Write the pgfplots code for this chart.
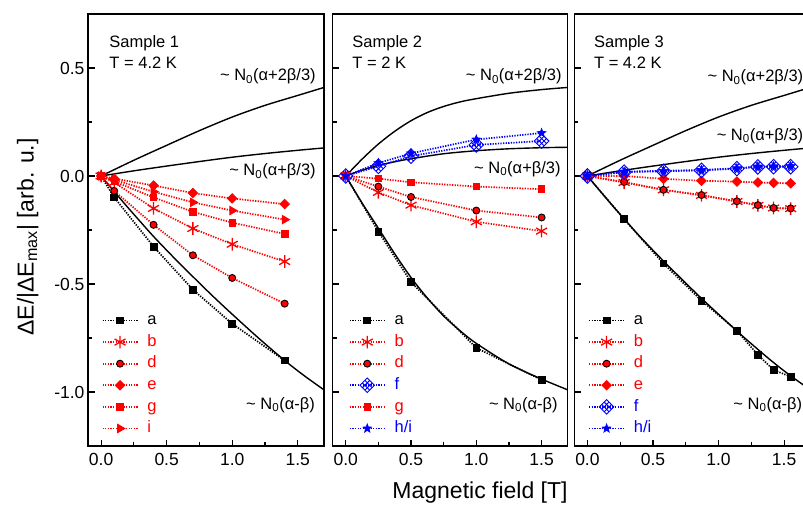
\documentclass[border=0pt]{standalone}
\usepackage{pgfplots}
\pgfplotsset{compat=1.18}
\usepackage{fontspec}
\setmainfont{Liberation Sans}
\usetikzlibrary{plotmarks}

\definecolor{myred}{RGB}{255,0,0}
\definecolor{myblue}{RGB}{0,0,255}

\pgfdeclareplotmark{latdiamond}{%
  \pgfpathmoveto{\pgfqpoint{0pt}{\pgfplotmarksize}}%
  \pgfpathlineto{\pgfqpoint{\pgfplotmarksize}{0pt}}%
  \pgfpathlineto{\pgfqpoint{0pt}{-\pgfplotmarksize}}%
  \pgfpathlineto{\pgfqpoint{-\pgfplotmarksize}{0pt}}%
  \pgfpathclose
  \pgfpathmoveto{\pgfqpoint{-0.3333\pgfplotmarksize}{0.6667\pgfplotmarksize}}%
  \pgfpathlineto{\pgfqpoint{0.6667\pgfplotmarksize}{-0.3333\pgfplotmarksize}}%
  \pgfpathmoveto{\pgfqpoint{-0.6667\pgfplotmarksize}{0.3333\pgfplotmarksize}}%
  \pgfpathlineto{\pgfqpoint{0.3333\pgfplotmarksize}{-0.6667\pgfplotmarksize}}%
  \pgfpathmoveto{\pgfqpoint{0.3333\pgfplotmarksize}{0.6667\pgfplotmarksize}}%
  \pgfpathlineto{\pgfqpoint{-0.6667\pgfplotmarksize}{-0.3333\pgfplotmarksize}}%
  \pgfpathmoveto{\pgfqpoint{0.6667\pgfplotmarksize}{0.3333\pgfplotmarksize}}%
  \pgfpathlineto{\pgfqpoint{-0.3333\pgfplotmarksize}{-0.6667\pgfplotmarksize}}%
  \pgfusepathqstroke
}
\pgfdeclareplotmark{fstar}{%
  \pgfpathmoveto{\pgfqpointpolar{90}{\pgfplotmarksize}}%
  \pgfpathlineto{\pgfqpointpolar{126}{0.42\pgfplotmarksize}}%
  \pgfpathlineto{\pgfqpointpolar{162}{\pgfplotmarksize}}%
  \pgfpathlineto{\pgfqpointpolar{198}{0.42\pgfplotmarksize}}%
  \pgfpathlineto{\pgfqpointpolar{234}{\pgfplotmarksize}}%
  \pgfpathlineto{\pgfqpointpolar{270}{0.42\pgfplotmarksize}}%
  \pgfpathlineto{\pgfqpointpolar{306}{\pgfplotmarksize}}%
  \pgfpathlineto{\pgfqpointpolar{342}{0.42\pgfplotmarksize}}%
  \pgfpathlineto{\pgfqpointpolar{18}{\pgfplotmarksize}}%
  \pgfpathlineto{\pgfqpointpolar{54}{0.42\pgfplotmarksize}}%
  \pgfpathclose
  \pgfusepathqfillstroke
}
\pgfdeclareplotmark{rdiamondf}{%
  \pgfpathmoveto{\pgfqpoint{0pt}{\pgfplotmarksize}}%
  \pgfpathlineto{\pgfqpoint{\pgfplotmarksize}{0pt}}%
  \pgfpathlineto{\pgfqpoint{0pt}{-\pgfplotmarksize}}%
  \pgfpathlineto{\pgfqpoint{-\pgfplotmarksize}{0pt}}%
  \pgfpathclose
  \pgfusepathqfillstroke
}

\newcommand{\myfs}{\fontsize{16.5}{19}\selectfont}
\newcommand{\myfl}{\fontsize{23}{26}\selectfont}

\pgfplotsset{
  dotline/.style={line width=1.7pt, dash pattern=on 1.3pt off 1.3pt},
  theory/.style={black, line width=1.4pt, solid, no markers, forget plot, smooth},
  sa/.style={black, dotline, mark=square*, mark size=3.4pt, mark options={solid, fill=black, line width=0.8pt}},
  sb/.style={myred, dotline, mark=asterisk, mark size=6.3pt, mark options={solid, line width=1.3pt}},
  sd/.style={myred, dotline, mark=*, mark size=3.5pt, mark options={solid, fill=myred, draw=black, line width=0.9pt}},
  se/.style={myred, dotline, mark=rdiamondf, mark size=4.7pt, mark options={solid, fill=myred, line width=0.8pt}},
  sg/.style={myred, dotline, mark=square*, mark size=3.3pt, mark options={solid, fill=myred, line width=0.8pt}},
  si/.style={myred, dotline, mark=triangle*, mark size=4.9pt, mark options={solid, fill=myred, rotate=-90, line width=0.8pt}},
  sf/.style={myblue, dotline, mark=latdiamond, mark size=7.3pt, mark options={solid, line width=0.9pt}},
  sh/.style={myblue, dotline, mark=fstar, mark size=4.6pt, mark options={solid, fill=myblue, line width=0.6pt}},
  panel/.style={
    scale only axis, width=236pt, height=432pt, anchor=south west,
    xmin=-0.1, xmax=1.7, ymin=-1.25, ymax=0.75,
    xtick={0,0.5,1,1.5}, minor xtick={0.25,0.75,1.25},
    ytick={-1,-0.5,0,0.5}, minor ytick={-1.25,-0.75,-0.25,0.25},
    tick align=inside, xtick pos=left, ytick pos=left,
    major tick length=6.5pt, minor tick length=4pt,
    axis line style={line width=1.3pt},
    every tick/.style={black, line width=1.1pt},
    xticklabel={\pgfmathprintnumber[fixed,fixed zerofill,precision=1,assume math mode=true]{\tick}},
    yticklabel={\pgfmathprintnumber[fixed,fixed zerofill,precision=1,assume math mode=true]{\tick}},
    tick label style={font=\fontsize{17.5}{20}\selectfont},
    xticklabel style={yshift=-4pt},
    legend cell align=left,
    legend image code/.code={\draw[mark repeat=2,mark phase=2,##1] plot coordinates {(0pt,0pt) (17.5pt,0pt) (35pt,0pt)};},
    legend style={draw=none, fill=none, inner sep=0pt, outer sep=0pt, anchor=north west,
      row sep=6.1pt, font=\myfs,
      nodes={inner sep=0pt, text height=12pt, text depth=3.5pt},
      /tikz/every odd column/.append style={column sep=9pt}},
  },
}

\begin{document}
\begin{tikzpicture}

% ---------------- Panel 1 ----------------
\begin{axis}[panel, at={(88pt,-446pt)},
  legend style={at={(rel axis cs:0.058,0.3085)}}]
\addplot[theory] coordinates {(0,0) (0.25,0.073) (0.5,0.142) (0.75,0.21) (1.0,0.273) (1.25,0.327) (1.5,0.373) (1.7,0.41)};
\addplot[theory] coordinates {(0,0) (0.25,0.024) (0.5,0.046) (0.75,0.067) (1.0,0.087) (1.25,0.104) (1.5,0.119) (1.7,0.130)};
\addplot[theory] coordinates {(0,0) (0.1,-0.072) (0.2,-0.143) (0.3,-0.212) (0.4,-0.28) (0.55,-0.375) (0.7,-0.466) (0.85,-0.555) (1.0,-0.64) (1.2,-0.75) (1.4,-0.854) (1.55,-0.925) (1.7,-0.99)};
\addplot[sa] coordinates {(0,0) (0.1,-0.099) (0.4,-0.327) (0.7,-0.526) (1.0,-0.684) (1.4,-0.854)};
\addlegendentry{a}
\addplot[sb] coordinates {(0,0) (0.1,-0.030) (0.4,-0.150) (0.7,-0.243) (1.0,-0.316) (1.4,-0.396)};
\addlegendentry{\textcolor{myred}{b}}
\addplot[sd] coordinates {(0,0) (0.1,-0.069) (0.4,-0.226) (0.7,-0.367) (1.0,-0.472) (1.4,-0.591)};
\addlegendentry{\textcolor{myred}{d}}
\addplot[se] coordinates {(0,0) (0.1,-0.012) (0.4,-0.044) (0.7,-0.079) (1.0,-0.104) (1.4,-0.130)};
\addlegendentry{\textcolor{myred}{e}}
\addplot[sg] coordinates {(0,0) (0.1,-0.025) (0.4,-0.099) (0.7,-0.166) (1.0,-0.216) (1.4,-0.268)};
\addlegendentry{\textcolor{myred}{g}}
\addplot[si] coordinates {(0,0) (0.1,-0.018) (0.4,-0.073) (0.7,-0.122) (1.0,-0.160) (1.4,-0.202)};
\addlegendentry{\textcolor{myred}{i}}
\node[anchor=base west, font=\myfs] at (rel axis cs:0.076,0.9225) {Sample 1};
\node[anchor=base west, font=\myfs] at (rel axis cs:0.076,0.874) {T = 4.2 K};
\node[anchor=base east, font=\myfs] at (rel axis cs:0.98,0.845) {\textasciitilde{} N\textsubscript{0}(α+2β/3)};
\node[anchor=base east, font=\myfs] at (rel axis cs:0.98,0.6257) {\textasciitilde{} N\textsubscript{0}(α+β/3)};
\node[anchor=base east, font=\myfs] at (rel axis cs:0.976,0.0850) {\textasciitilde{} N\textsubscript{0}(α-β)};
\end{axis}

% ---------------- Panel 2 ----------------
\begin{axis}[panel, at={(332.7pt,-446pt)}, width=235pt, yticklabels={},
  legend style={at={(rel axis cs:0.069,0.3085)}}]
\addplot[theory] coordinates {(0,0) (0.125,0.078) (0.25,0.148) (0.375,0.207) (0.5,0.256) (0.625,0.294) (0.75,0.322) (0.875,0.343) (1.0,0.358) (1.25,0.383) (1.5,0.400) (1.7,0.41)};
\addplot[theory] coordinates {(0,0) (0.125,0.027) (0.25,0.049) (0.375,0.066) (0.5,0.08) (0.75,0.103) (1.0,0.117) (1.25,0.126) (1.5,0.131) (1.7,0.133)};
\addplot[theory] coordinates {(0,0) (0.125,-0.125) (0.25,-0.242) (0.375,-0.36) (0.5,-0.47) (0.625,-0.565) (0.75,-0.648) (0.875,-0.716) (1.0,-0.775) (1.25,-0.87) (1.5,-0.94) (1.7,-0.99)};
\addplot[sa] coordinates {(0,0) (0.25,-0.257) (0.5,-0.491) (1.0,-0.796) (1.5,-0.944)};
\addlegendentry{a}
\addplot[sb] coordinates {(0,0) (0.25,-0.076) (0.5,-0.135) (1.0,-0.212) (1.5,-0.255)};
\addlegendentry{\textcolor{myred}{b}}
\addplot[sd] coordinates {(0,0) (0.25,-0.049) (0.5,-0.097) (1.0,-0.160) (1.5,-0.192)};
\addlegendentry{\textcolor{myred}{d}}
\addplot[sf] coordinates {(0,0) (0.25,0.045) (0.5,0.092) (1.0,0.144) (1.5,0.162)};
\addlegendentry{\textcolor{myblue}{f}}
\addplot[sg] coordinates {(0,0) (0.25,-0.012) (0.5,-0.029) (1.0,-0.049) (1.5,-0.061)};
\addlegendentry{\textcolor{myred}{g}}
\addplot[sh] coordinates {(0,0) (0.25,0.060) (0.5,0.105) (1.0,0.169) (1.5,0.199)};
\addlegendentry{\textcolor{myblue}{h/i}}
\node[anchor=base west, font=\myfs] at (rel axis cs:0.069,0.9225) {Sample 2};
\node[anchor=base west, font=\myfs] at (rel axis cs:0.069,0.874) {T = 2 K};
\node[anchor=base east, font=\myfs] at (rel axis cs:0.989,0.845) {\textasciitilde{} N\textsubscript{0}(α+2β/3)};
\node[anchor=base east, font=\myfs] at (rel axis cs:0.985,0.6312) {\textasciitilde{} N\textsubscript{0}(α+β/3)};
\node[anchor=base east, font=\myfs] at (rel axis cs:0.972,0.0850) {\textasciitilde{} N\textsubscript{0}(α-β)};
\end{axis}

% ---------------- Panel 3 ----------------
\begin{axis}[panel, at={(574.3pt,-446pt)}, yticklabels={},
  legend style={at={(rel axis cs:0.059,0.3085)}}]
\addplot[theory] coordinates {(0,0) (0.25,0.073) (0.5,0.142) (0.75,0.21) (1.0,0.273) (1.25,0.327) (1.5,0.373) (1.7,0.41)};
\addplot[theory] coordinates {(0,0) (0.25,0.024) (0.5,0.046) (0.75,0.067) (1.0,0.087) (1.25,0.104) (1.5,0.119) (1.7,0.130)};
\addplot[theory] coordinates {(0,0) (0.1,-0.072) (0.2,-0.143) (0.3,-0.212) (0.4,-0.28) (0.55,-0.375) (0.7,-0.466) (0.85,-0.555) (1.0,-0.64) (1.2,-0.75) (1.4,-0.854) (1.55,-0.925) (1.7,-0.99)};
\addplot[sa] coordinates {(0,0) (0.28,-0.200) (0.58,-0.405) (0.87,-0.577) (1.14,-0.716) (1.30,-0.828) (1.42,-0.898) (1.55,-0.929)};
\addlegendentry{a}
\addplot[sb] coordinates {(0,0) (0.28,-0.030) (0.58,-0.064) (0.87,-0.090) (1.14,-0.118) (1.30,-0.136) (1.42,-0.148) (1.55,-0.151)};
\addlegendentry{\textcolor{myred}{b}}
\addplot[sd] coordinates {(0,0) (0.28,-0.028) (0.58,-0.064) (0.87,-0.088) (1.14,-0.117) (1.30,-0.135) (1.42,-0.148) (1.55,-0.150)};
\addlegendentry{\textcolor{myred}{d}}
\addplot[se] coordinates {(0,0) (0.28,0.000) (0.58,-0.013) (0.87,-0.022) (1.14,-0.026) (1.30,-0.030) (1.42,-0.032) (1.55,-0.034)};
\addlegendentry{\textcolor{myred}{e}}
\addplot[sf] coordinates {(0,0) (0.28,0.018) (0.58,0.022) (0.87,0.026) (1.14,0.034) (1.30,0.042) (1.42,0.043) (1.55,0.043)};
\addlegendentry{\textcolor{myblue}{f}}
\addplot[sh] coordinates {(0,0) (0.28,0.020) (0.58,0.024) (0.87,0.028) (1.14,0.036) (1.30,0.044) (1.42,0.045) (1.55,0.046)};
\addlegendentry{\textcolor{myblue}{h/i}}
\node[anchor=base west, font=\myfs] at (rel axis cs:0.069,0.9225) {Sample 3};
\node[anchor=base west, font=\myfs] at (rel axis cs:0.069,0.874) {T = 4.2 K};
\node[anchor=base east, font=\myfs] at (rel axis cs:0.985,0.8433) {\textasciitilde{} N\textsubscript{0}(α+2β/3)};
\node[anchor=base east, font=\myfs] at (rel axis cs:0.985,0.7083) {\textasciitilde{} N\textsubscript{0}(α+β/3)};
\node[anchor=base east, font=\myfs] at (rel axis cs:0.98,0.0850) {\textasciitilde{} N\textsubscript{0}(α-β)};
\end{axis}

\node[rotate=90, anchor=base, font=\myfl] at (33.5pt,-237pt) {ΔE/|ΔE\textsubscript{max}| [arb. u.]};
\node[anchor=base, font=\myfl] at (480pt,-498pt) {Magnetic field [T]};

\pgfresetboundingbox
\path[use as bounding box] (0pt,0pt) rectangle (803pt,-508pt);
\end{tikzpicture}
\end{document}
